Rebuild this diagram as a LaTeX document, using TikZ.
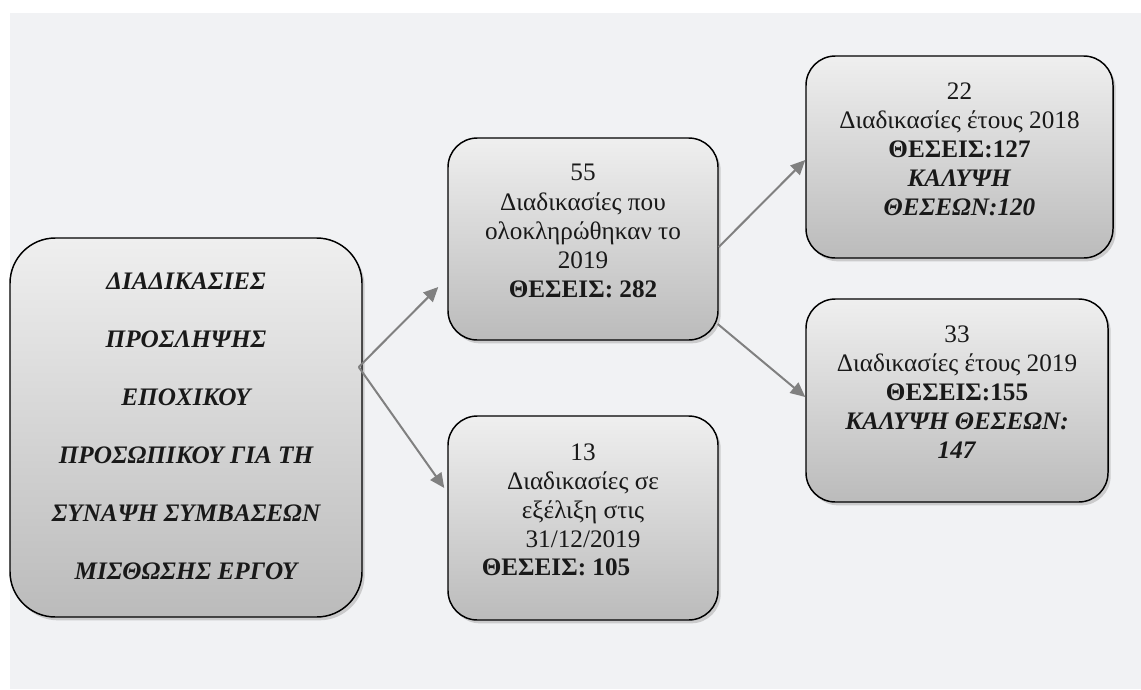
\documentclass[tikz,border=0pt]{standalone}
\usepackage{fontspec}
\setmainfont{Liberation Serif}
\usetikzlibrary{arrows.meta,shadows,calc}
\definecolor{bgc}{HTML}{F1F2F4}
\definecolor{arrc}{HTML}{808080}
\definecolor{topc}{HTML}{EFEFEF}
\definecolor{botc}{HTML}{BBBBBB}
\begin{document}
\begin{tikzpicture}[x=0.75pt,y=-0.75pt,
  box/.style={draw=black, line width=1.1pt, rounded corners=22pt,
    top color=topc, bottom color=botc,
    drop shadow={shadow xshift=2pt,shadow yshift=-2.5pt,fill=black!35},
    inner sep=0pt},
  bigbox/.style={box, rounded corners=34pt},
  txt/.style={align=center, font=\fontsize{18.9}{21.8}\selectfont, text=black!90, inner sep=0pt},
  bigtxt/.style={align=center, font=\fontsize{18.9}{43.5}\selectfont\bfseries\itshape, text=black!90, inner sep=0pt},
  conn/.style={draw=arrc, line width=1.5pt, -{Triangle[length=11pt,width=10pt]}}]
\useasboundingbox (0,0) rectangle (1141,689);
\fill[white] (0,0) rectangle (1141,689);
\fill[bgc] (10,13) rectangle (1141,689);

\node[bigbox, minimum width=264pt, minimum height=284.25pt] (lb) at (186,427.5) {};
\node[box, minimum width=202.5pt, minimum height=151.5pt] (b55) at (583,239) {};
\node[box, minimum width=202.5pt, minimum height=153pt] (b13) at (583,518) {};
\node[box, minimum width=230.25pt, minimum height=151.5pt] (b22) at (959.5,157) {};
\node[box, minimum width=226.5pt, minimum height=152.25pt] (b33) at (957,400.5) {};

\node[bigtxt] (tl) at (186,426) {ΔΙΑΔΙΚΑΣΙΕΣ\\ΠΡΟΣΛΗΨΗΣ\\ΕΠΟΧΙΚΟΥ\\ΠΡΟΣΩΠΙΚΟΥ ΓΙΑ ΤΗ\\ΣΥΝΑΨΗ ΣΥΜΒΑΣΕΩΝ\\ΜΙΣΘΩΣΗΣ ΕΡΓΟΥ};
\node[txt] (t55) at (583,231) {55\\Διαδικασίες που\\ολοκληρώθηκαν το\\2019\\\textbf{ΘΕΣΕΙΣ: 282}};
\node[txt] (t13) at (583,496) {13\\Διαδικασίες σε\\εξέλιξη στις\\31/12/2019};
\node[txt] (p13) at (556,567) {\textbf{ΘΕΣΕΙΣ: 105}};
\node[txt] (t22) at (959.5,149) {22\\Διαδικασίες έτους 2018\\\textbf{ΘΕΣΕΙΣ:127}\\\textbf{\textit{ΚΑΛΥΨΗ}}\\\textbf{\textit{ΘΕΣΕΩΝ:120}}};
\node[txt] (t33) at (957,392) {33\\Διαδικασίες έτους 2019\\\textbf{ΘΕΣΕΙΣ:155}\\\textbf{\textit{ΚΑΛΥΨΗ ΘΕΣΕΩΝ:}}\\\textbf{\textit{147}}};

\coordinate (fork) at ($(lb.east)+(-4,-60.5)$);
\draw[conn] (fork) -- ($(b55.west)+(-9,48)$);
\draw[conn] (fork) -- ($(b13.west)+(-3,-30)$);
\draw[conn] ($(b55.east)+(0,8)$) -- ($(b22.west)+(0,3)$);
\draw[conn] ($(b55.east)+(-1,85)$) -- ($(b33.west)+(0,-3.5)$);
\end{tikzpicture}
\end{document}
